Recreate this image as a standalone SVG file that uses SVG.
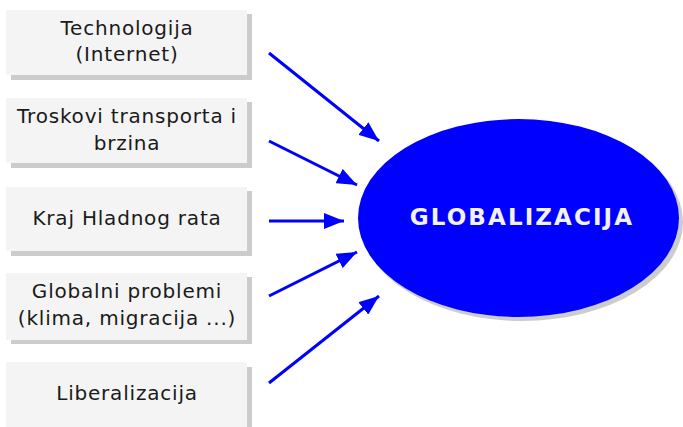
<svg xmlns="http://www.w3.org/2000/svg" width="683" height="427" viewBox="0 0 683 427">
<style>
.box{fill:#f4f4f4}
.sh{fill:#cccccc}
.t{font-family:"DejaVu Sans","Liberation Sans",sans-serif;font-size:20px;fill:#1a1a1a;text-anchor:middle;letter-spacing:0.8px}
.c{stroke:#0000ff;stroke-width:3;fill:none}
.g{font-family:"DejaVu Sans","Liberation Sans",sans-serif;font-size:23px;font-weight:bold;fill:#f2f2f2;text-anchor:middle;letter-spacing:2.1px}
</style>
<defs>
<marker id="ah" markerUnits="userSpaceOnUse" markerWidth="22" markerHeight="16" refX="20" refY="8" orient="auto">
<path d="M0,0 L20,8 L0,16 Z" fill="#0000ff"/>
</marker>
</defs>
<rect width="683" height="427" fill="#ffffff"/>
<g id="n1">
<rect class="sh" x="11" y="14" width="241" height="66"/>
<rect class="box" x="6" y="10" width="241" height="65"/>
<text class="t" x="127" y="35">Technologija</text>
<text class="t" x="127" y="61">(Internet)</text>
</g>
<g id="n2">
<rect class="sh" x="11" y="102" width="241" height="66"/>
<rect class="box" x="6" y="98" width="241" height="65"/>
<text class="t" x="127" y="123">Troskovi transporta i</text>
<text class="t" x="127" y="150">brzina</text>
</g>
<g id="n3">
<rect class="sh" x="11" y="191" width="241" height="65"/>
<rect class="box" x="6" y="187" width="241" height="64"/>
<text class="t" x="127" y="225">Kraj Hladnog rata</text>
</g>
<g id="n4">
<rect class="sh" x="11" y="277" width="241" height="67"/>
<rect class="box" x="6" y="273" width="241" height="67"/>
<text class="t" x="127" y="298">Globalni problemi</text>
<text class="t" x="127" y="325">(klima, migracija ...)</text>
</g>
<g id="n5">
<rect class="sh" x="11" y="367" width="241" height="66"/>
<rect class="box" x="6" y="362" width="241" height="66"/>
<text class="t" x="127" y="400">Liberalizacija</text>
</g>
<g id="center">
<ellipse cx="522" cy="222" rx="161" ry="99" fill="#cccccc"/>
<ellipse cx="518.5" cy="218" rx="160.5" ry="99" fill="#0000ff"/>
<text class="g" x="522" y="225">GLOBALIZACIJA</text>
</g>
<g id="connectors">
<line class="c" x1="269" y1="53" x2="379" y2="141" marker-end="url(#ah)"/>
<line class="c" x1="269" y1="141" x2="357" y2="185" marker-end="url(#ah)"/>
<line class="c" x1="269" y1="221" x2="344" y2="221" marker-end="url(#ah)"/>
<line class="c" x1="269" y1="296" x2="357" y2="252" marker-end="url(#ah)"/>
<line class="c" x1="269" y1="383" x2="379" y2="296" marker-end="url(#ah)"/>
</g>
</svg>
